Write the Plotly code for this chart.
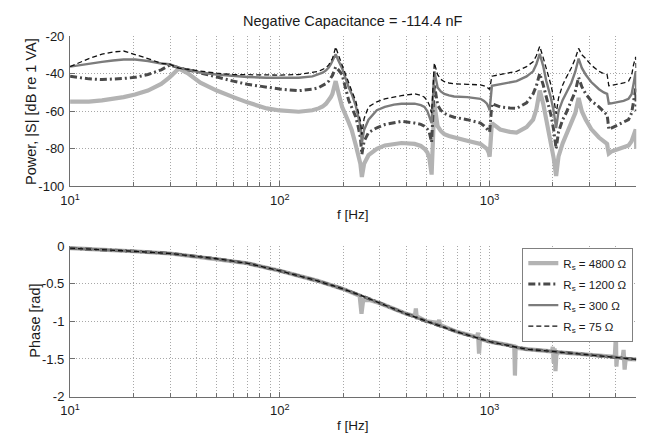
import plotly.graph_objects as go

# ---------------- data: power spectrum (top) ----------------
freq_top = [10, 12.3, 14.2, 16, 18, 20.4, 23.5, 27.2, 29.8, 33,
            36.3, 41.8, 50, 60, 70, 86.6, 100, 123, 143, 153,
            160, 166, 171, 175, 178, 181, 184.5, 190, 198, 213,
            220, 230, 236, 242, 246, 252, 264.6, 290, 316.6, 350,
            380, 439, 470, 489, 505, 516, 522, 529, 545, 555,
            565, 585, 608, 640, 677, 782, 904, 940, 971, 990,
            1000, 1025, 1122, 1250, 1344, 1500, 1611, 1670, 1733, 1800,
            1863, 1960, 2020, 2075, 2130, 2230, 2312, 2450, 2560, 2655,
            2750, 2872, 3050, 3320, 3500, 3631, 3660, 3698, 3800, 4121,
            4350, 4593, 4750, 4851, 4920, 4970, 5000]
pow_75 = [-36.3, -32.0, -29.7, -28.5, -28.0, -29.7, -32.0, -34.6, -35.0, -37.1,
          -37.8, -38.8, -39.8, -40.5, -40.7, -40.9, -40.8, -40.5, -39.5, -38.8,
          -37.8, -36.8, -35.4, -33.5, -32.0, -29.5, -25.8, -30.0, -35.4, -45.7,
          -49.1, -54.5, -59.4, -65.0, -72.5, -64.0, -57.7, -55.0, -53.4, -52.3,
          -51.7, -50.8, -51.5, -52.6, -54.5, -56.8, -58.5, -61.0, -34.3, -38.0,
          -40.6, -43.0, -44.3, -45.0, -45.4, -45.7, -46.0, -46.5, -47.1, -48.0,
          -48.3, -41.4, -40.6, -39.8, -38.8, -36.3, -33.7, -30.5, -25.5, -31.5,
          -37.1, -46.0, -53.0, -61.5, -53.0, -46.0, -42.3, -37.0, -32.0, -26.6,
          -30.0, -32.0, -35.5, -38.8, -40.0, -40.6, -43.0, -46.5, -46.3, -45.7,
          -45.0, -44.0, -41.0, -35.4, -33.0, -31.1, -39.0]
pow_300 = [-36.3, -34.6, -33.8, -33.0, -32.5, -32.5, -33.3, -34.6, -35.0, -36.8,
           -38.0, -39.4, -40.5, -41.4, -41.8, -42.2, -42.3, -42.2, -41.5, -40.5,
           -39.5, -38.3, -36.8, -35.0, -33.5, -31.8, -29.7, -33.0, -37.1, -47.4,
           -50.8, -57.0, -61.9, -68.0, -77.0, -70.0, -64.5, -59.5, -57.7, -56.5,
           -56.0, -56.0, -56.8, -57.7, -60.0, -62.8, -64.5, -66.3, -38.8, -44.0,
           -47.4, -49.5, -50.8, -51.6, -52.2, -52.5, -53.4, -54.5, -56.0, -58.0,
           -59.5, -46.5, -45.7, -45.0, -44.0, -41.5, -38.8, -35.0, -29.5, -36.0,
           -44.0, -53.0, -60.0, -69.0, -60.0, -54.0, -50.8, -45.0, -39.0, -32.0,
           -37.0, -40.6, -44.5, -48.3, -50.0, -50.8, -53.0, -56.0, -55.8, -55.1,
           -54.5, -53.4, -51.0, -45.7, -42.0, -38.8, -50.0]
pow_1200 = [-41.4, -42.8, -43.2, -43.0, -42.6, -42.0, -40.5, -38.0, -35.5, -36.8,
            -38.0, -39.7, -42.0, -44.0, -45.7, -47.4, -48.2, -49.1, -48.3, -47.5,
            -46.5, -45.3, -44.0, -42.5, -41.0, -39.0, -36.5, -38.0, -40.5, -54.3,
            -57.7, -63.0, -68.0, -74.0, -83.0, -76.0, -71.4, -68.8, -67.1, -66.0,
            -65.4, -66.3, -67.0, -68.0, -69.5, -71.4, -73.5, -76.5, -45.7, -52.0,
            -56.8, -59.5, -61.1, -62.3, -63.2, -64.5, -66.3, -67.8, -69.7, -70.5,
            -71.0, -56.0, -57.7, -58.3, -58.5, -55.5, -50.8, -46.5, -40.0, -46.0,
            -52.5, -62.0, -70.0, -80.0, -71.0, -64.5, -61.1, -55.0, -49.5, -42.0,
            -47.0, -50.8, -54.5, -57.7, -60.5, -62.0, -65.0, -69.7, -69.0, -67.1,
            -66.0, -64.5, -61.0, -56.0, -51.0, -47.4, -60.0]
pow_4800 = [-54.9, -54.9, -54.2, -53.5, -52.5, -51.1, -49.0, -45.5, -42.0, -37.3,
            -39.7, -44.8, -49.0, -52.5, -55.3, -58.5, -59.6, -60.3, -59.5, -58.5,
            -57.5, -56.0, -54.3, -52.5, -50.8, -47.5, -44.0, -50.0, -57.7, -66.0,
            -70.0, -78.0, -83.4, -88.0, -95.0, -88.0, -83.4, -80.0, -78.2, -77.3,
            -76.9, -77.4, -78.5, -80.0, -82.0, -85.1, -88.0, -93.7, -56.0, -63.0,
            -68.0, -70.5, -72.2, -73.2, -74.0, -75.7, -77.4, -78.5, -80.0, -82.0,
            -84.2, -66.3, -69.7, -71.0, -71.4, -68.5, -64.5, -59.0, -49.0, -56.0,
            -64.5, -76.0, -85.0, -94.5, -84.0, -77.0, -73.1, -67.0, -61.0, -53.0,
            -60.0, -64.5, -69.5, -74.0, -76.0, -77.4, -80.0, -82.5, -81.5, -80.0,
            -79.0, -78.2, -76.0, -73.1, -71.0, -69.7, -80.0]

# ---------------- data: phase (bottom) ----------------
freq_ph = [10, 15, 20, 30, 40, 50, 70, 100, 150, 200, 250, 300, 400, 500, 700, 1000, 1500, 2000, 3000, 4000, 5000]
phase_common = [-0.03, -0.05, -0.07, -0.10, -0.14, -0.17, -0.23, -0.33, -0.46, -0.57, -0.67, -0.76, -0.90, -1.00,
                -1.14, -1.27, -1.37, -1.40, -1.445, -1.475, -1.505]
freq_ph_4800 = [10, 15, 20, 30, 40, 50, 70, 100, 150, 200, 240, 245, 250, 255, 270, 300, 400, 440, 445, 450, 455,
                500, 570, 575, 580, 700, 870, 880, 890, 900, 1000, 1310, 1320, 1330, 1500, 1980, 2000, 2020, 2040,
                2060, 2080, 2120, 3000, 3950, 4000, 4020, 4050, 4300, 4350, 4400, 4450, 5000]
phase_4800 = [-0.03, -0.05, -0.07, -0.10, -0.14, -0.17, -0.23, -0.33, -0.46, -0.57, -0.66, -0.90, -0.70, -0.72,
              -0.72, -0.76, -0.90, -0.93, -0.83, -0.97, -0.94, -1.00, -1.02, -0.98, -1.05, -1.14, -1.21, -1.15,
              -1.43, -1.23, -1.27, -1.33, -1.72, -1.35, -1.37, -1.40, -1.34, -1.55, -1.36, -1.66, -1.45, -1.41,
              -1.445, -1.47, -1.18, -1.60, -1.48, -1.49, -1.38, -1.64, -1.50, -1.505]

series_names = ["R<sub>s</sub> = 4800 Ω", "R<sub>s</sub> = 1200 Ω", "R<sub>s</sub> = 300 Ω", "R<sub>s</sub> = 75 Ω"]
title_text = "Negative Capacitance = -114.4 nF"

xtick_vals = [10, 100, 1000]
xtick_text = ["10<sup>1</sup>", "10<sup>2</sup>", "10<sup>3</sup>"]
minor_vals = [20, 30, 40, 50, 60, 70, 80, 90, 200, 300, 400, 500, 600, 700, 800, 900, 2000, 3000, 4000, 5000]
y1_vals = [-100, -80, -60, -40, -20]
y1_text = ["-100", "-80", "-60", "-40", "-20"]
y2_vals = [-2, -1.5, -1, -0.5, 0]
y2_text = ["-2", "-1.5", "-1", "-0.5", "0"]

styles = [
    dict(color="#b3b3b3", width=4.2, dash="solid"),
    dict(color="#4a4a4a", width=3.0, dash="7px,3px,2px,3px"),
    dict(color="#7c7c7c", width=2.4, dash="solid"),
    dict(color="#111111", width=1.3, dash="5px,3px"),
]

fig = go.Figure()
top_series = [pow_4800, pow_1200, pow_300, pow_75]
for name, ys, st in zip(series_names, top_series, styles):
    fig.add_trace(go.Scatter(x=freq_top, y=ys, mode="lines", line=st, name=name,
                             legendgroup=name, showlegend=False, xaxis="x", yaxis="y"))

ph_x = [freq_ph_4800, freq_ph, freq_ph, freq_ph]
ph_y = [phase_4800, phase_common, phase_common, phase_common]
for name, xs, ys, st in zip(series_names, ph_x, ph_y, styles):
    fig.add_trace(go.Scatter(x=xs, y=ys, mode="lines", line=st, name=name,
                             legendgroup=name, showlegend=True, xaxis="x2", yaxis="y2"))

W, H = 654, 444
xdom = [61 / W, 636 / W]
font_family = "Liberation Sans, Arial, sans-serif"
axis_col = "#6e6e6e"
grid_col = "#a8a8a8"
gdash = "1px,2px"

def xaxis_cfg(anchor):
    return dict(type="log", range=[1, 3.69897], domain=xdom, anchor=anchor,
                tickvals=xtick_vals, ticktext=xtick_text, ticks="inside", ticklen=5,
                tickcolor=axis_col, showline=True, linecolor=axis_col, linewidth=1.2,
                showgrid=True, gridcolor=grid_col, griddash=gdash, gridwidth=1,
                minor=dict(tickvals=minor_vals, ticks="inside", ticklen=4, tickcolor=axis_col,
                           showgrid=True, gridcolor=grid_col, griddash=gdash, gridwidth=1),
                zeroline=False, tickfont=dict(size=13, color="#1a1a1a"), ticklabelstandoff=2)

def yaxis_cfg(anchor, dom, rng, vals, text):
    return dict(range=rng, domain=dom, anchor=anchor, tickvals=vals, ticktext=text,
                ticks="inside", ticklen=5, tickcolor=axis_col, showline=True, linecolor=axis_col,
                linewidth=1.2, showgrid=True, gridcolor=grid_col, griddash=gdash, gridwidth=1,
                zeroline=False, tickfont=dict(size=13, color="#1a1a1a"), ticklabelstandoff=2)

fig.update_layout(
    width=W, height=H, margin=dict(l=0, r=0, t=0, b=0),
    paper_bgcolor="white", plot_bgcolor="white",
    font=dict(family=font_family, color="#1a1a1a"),
    xaxis=xaxis_cfg("y"),
    yaxis=yaxis_cfg("x", [(H - 185.7) / H, (H - 30) / H], [-100, -20], y1_vals, y1_text),
    xaxis2=xaxis_cfg("y2"),
    yaxis2=yaxis_cfg("x2", [(H - 403.3) / H, (H - 247.3) / H], [-2, 0], y2_vals, y2_text),
    legend=dict(x=633 / W, xanchor="right", y=(H - 249) / H, yanchor="top",
                bgcolor="white", bordercolor="#808080", borderwidth=1,
                font=dict(size=11.5, color="#1a1a1a", family=font_family),
                itemwidth=30, tracegroupgap=2),
    showlegend=True,
)

ann = [
    dict(text=title_text, x=348.5 / W, y=(H - 14) / H, font=dict(size=14.5)),
    dict(text="f [Hz]", x=348.5 / W, y=(H - 215) / H, font=dict(size=13.5)),
    dict(text="f [Hz]", x=348.5 / W, y=(H - 433) / H, font=dict(size=13.5)),
    dict(text="Power, |S| [dB re 1 VA]", x=22 / W, y=(H - 108) / H, textangle=-90, font=dict(size=14.5)),
    dict(text="Phase [rad]", x=25 / W, y=(H - 325) / H, textangle=-90, font=dict(size=14.5)),
]
for a in ann:
    fig.add_annotation(xref="paper", yref="paper", showarrow=False, xanchor="center", yanchor="middle",
                       font_family=font_family, font_color="#1a1a1a", **a)

fig.write_html("out.html")
